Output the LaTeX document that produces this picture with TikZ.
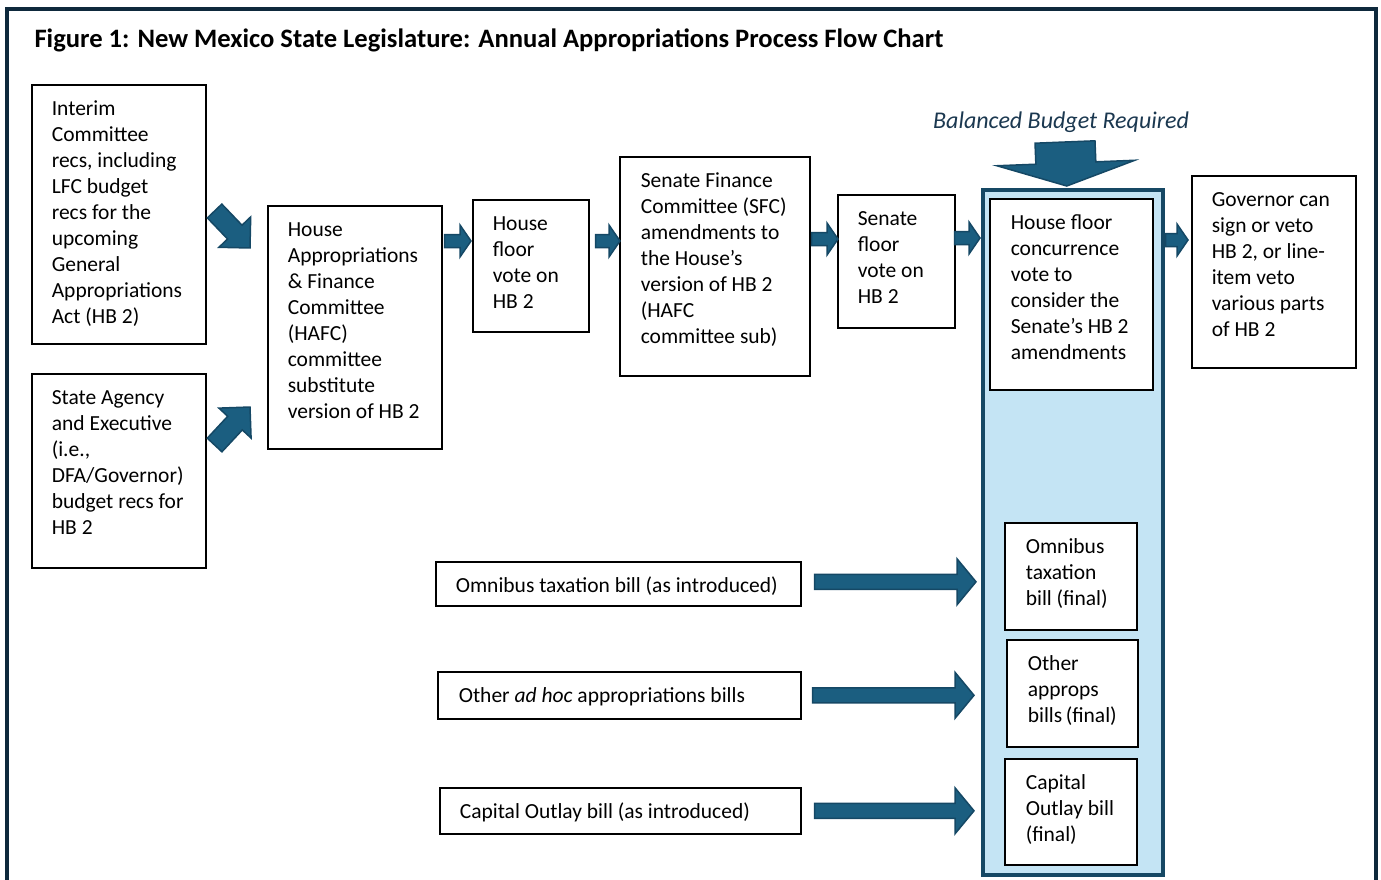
\documentclass[tikz,border=0pt]{standalone}
\usepackage{fontspec}
\setmainfont{Carlito}
\usetikzlibrary{calc}
\definecolor{framenavy}{RGB}{14,41,60}
\definecolor{arrowblue}{RGB}{27,94,128}
\definecolor{arrowedge}{RGB}{21,72,101}
\definecolor{budgetfill}{RGB}{196,228,244}
\definecolor{budgetedge}{RGB}{22,72,100}
\definecolor{budgettext}{RGB}{27,56,80}
\tikzset{%
    box/.style={draw, fill=white, line width=1.6pt, anchor=north west,
        inner xsep=20pt, inner ysep=13pt, font=\fontsize{21.5}{26}\selectfont},
    blockarr/.style={fill=arrowblue, draw=arrowedge, line width=1.5pt, line join=miter},
    pics/barrow/.style args={#1/#2/#3/#4}{code={%
        \filldraw[blockarr, x=1pt, y=1pt] (0,-#2) -- (#1-#4,-#2) -- (#1-#4,-#3) -- (#1,0)
            -- (#1-#4,#3) -- (#1-#4,#2) -- (0,#2) -- cycle;}}
}
\newcommand\boxtext[3]{\parbox[t][#2][t]{#1}{\raggedright\rule{0pt}{18pt}#3}}
\newcommand\blockto[5]{%
    \path let \p1=#1, \p2=#2, \n1={atan2(\y2-\y1,\x2-\x1)}, \n2={veclen(\x2-\x1,\y2-\y1)} in
        pic[rotate=\n1] at (\p1) {barrow={\n2}/#3/#4/#5};}

\begin{document}
\begin{tikzpicture}[x=1pt, y=-1pt]
    \useasboundingbox (0,0) rectangle (1381,880);
    \draw[framenavy, line width=4pt] (7,9) rectangle (1376,905);
    \node[anchor=west, font=\bfseries\fontsize{26.6}{30}\selectfont] (title) at (31,40)
        {Figure 1: New Mexico State Legislature: Annual Appropriations Process Flow Chart};

    % starting recommendations
    \node[box] (interim) at (31,84) {\boxtext{134pt}{233pt}{Interim\\Committee\\recs, including\\LFC budget\\recs for the\\upcoming\\General\\Appropriations\\Act (HB 2)}};
    \node[box] (agency) at (31,373) {\boxtext{134pt}{168pt}{State Agency\\and Executive\\(i.e.,\\DFA/Governor)\\budget recs for\\HB 2}};

    % HB 2 path
    \node[box] (hafc) at (267,205) {\boxtext{134pt}{217pt}{House\\Appropriations\\\& Finance\\Committee\\(HAFC)\\committee\\substitute\\version of HB 2}};
    \node[box] (hvote) at (472,199) {\boxtext{76pt}{106pt}{House\\floor\\vote on\\HB 2}};
    \node[box, inner xsep=21pt] (sfc) at (619,156) {\boxtext{148pt}{193pt}{Senate Finance\\Committee (SFC)\\amendments to\\the House’s\\version of HB 2\\(HAFC\\committee sub)}};
    \node[box] (svote) at (837,194) {\boxtext{77pt}{107pt}{Senate\\floor\\vote on\\HB 2}};

    % balanced budget column
    \node[draw=budgetedge, fill=budgetfill, line width=3.5pt, anchor=north west, inner sep=0pt,
        minimum width=180pt, minimum height=685pt] (budget) at (981,188) {};
    \node[font=\itshape\fontsize{24}{28}\selectfont, text=budgettext] (bbr) at (1061,122) {Balanced Budget Required};
    \node[box, inner xsep=21pt] (concur) at (989,198) {\boxtext{121pt}{165pt}{House floor\\concurrence\\vote to\\consider the\\Senate’s HB 2\\amendments}};
    \node[box] (gov) at (1191,175) {\boxtext{124pt}{166pt}{Governor can\\sign or veto\\HB 2, or line-\\item veto\\various parts\\of HB 2}};

    % other bills
    \node[box] (omnin) at (435,561) {\boxtext{325pt}{18pt}{Omnibus taxation bill (as introduced)}};
    \node[box, inner xsep=21pt] (adhoc) at (437,671) {\boxtext{321pt}{21pt}{Other \textit{ad hoc} appropriations bills}};
    \node[box] (capin) at (439,787) {\boxtext{321pt}{20pt}{Capital Outlay bill (as introduced)}};
    \node[box, inner xsep=21pt] (omnfin) at (1004,522) {\boxtext{90pt}{81pt}{Omnibus\\taxation\\bill~(final)}};
    \node[box, inner xsep=21pt] (othfin) at (1006,639) {\boxtext{89pt}{81pt}{Other\\approps\\bills~(final)}};
    \node[box, inner xsep=21pt] (capfin) at (1004,758) {\boxtext{90pt}{80pt}{Capital\\Outlay~bill\\(final)}};

    % block arrows
    \blockto{($(interim.east|-0,211)+(8,0)$)}{($(hafc.west|-0,248)+(-17,0)$)}{10}{22}{22}
    \blockto{($(agency.east|-0,445)+(8,0)$)}{($(hafc.west|-0,407)+(-17,0)$)}{10}{22}{22}
    \blockto{($(hafc.east|-0,241)+(2,0)$)}{($(hvote.west|-0,241)+(-1,0)$)}{6.5}{16}{11}
    \blockto{($(hvote.east|-0,241)+(6,0)$)}{($(sfc.west|-0,241)+(1,0)$)}{6.5}{16}{11}
    \blockto{($(sfc.east|-0,239)+(1,0)$)}{($(svote.west|-0,239)+(1,0)$)}{6.5}{16}{11}
    \blockto{($(svote.east|-0,238)+(-1,0)$)}{($(budget.west|-0,238)+(-1,0)$)}{6.5}{16}{11}
    \blockto{($(budget.east|-0,240)+(1,0)$)}{($(gov.west|-0,240)+(-3,0)$)}{6.5}{16}{11}
    \blockto{(1065,142)}{($(budget.north|-0,186)+(-6,0)$)}{30}{69}{23}
    \blockto{($(omnin.east)+(13,-2)$)}{($(budget.west|-omnin.east)+(-5,-2)$)}{7.5}{23}{19}
    \blockto{($(adhoc.east)+(11,0)$)}{($(budget.west|-adhoc.east)+(-7,0)$)}{7.5}{23}{19}
    \blockto{($(capin.east)+(13,0)$)}{($(budget.west|-capin.east)+(-7,0)$)}{7.5}{23}{19}
\end{tikzpicture}
\end{document}
